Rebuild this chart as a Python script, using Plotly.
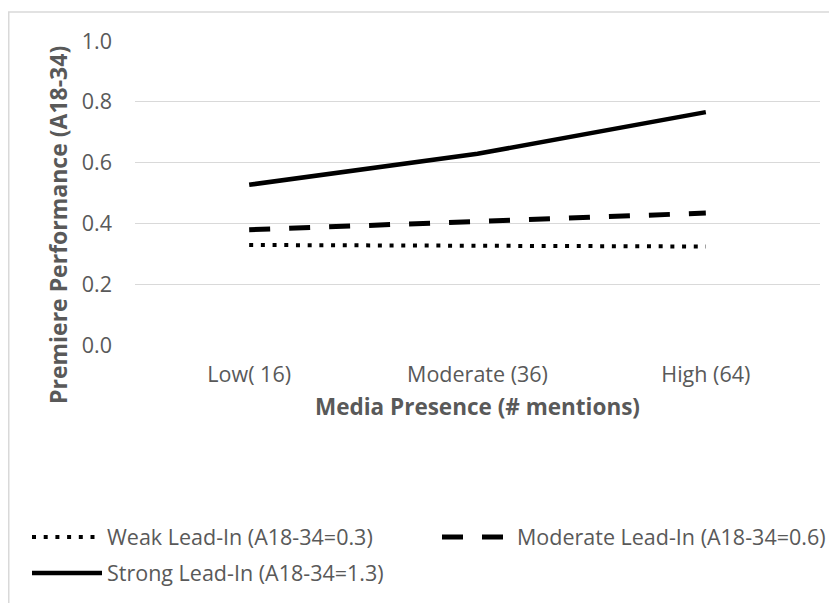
import plotly.graph_objects as go

categories = ["Low( 16)", "Moderate (36)", "High (64)"]
weak = [0.329, 0.327, 0.324]
moderate = [0.379, 0.405, 0.434]
strong = [0.527, 0.629, 0.766]
series_names = ["Weak Lead-In (A18-34=0.3)", "Moderate Lead-In (A18-34=0.6)", "Strong Lead-In (A18-34=1.3)"]
y_ticks = [0.0, 0.2, 0.4, 0.6, 0.8, 1.0]

FONT = "Open Sans"
GREY = "#595959"

fig = go.Figure()
fig.add_trace(go.Scatter(x=categories, y=weak, name=series_names[0], mode="lines", legend="legend",
                         line=dict(color="black", width=4, dash="4px,7.7px")))
fig.add_trace(go.Scatter(x=categories, y=moderate, name=series_names[1], mode="lines", legend="legend2",
                         line=dict(color="black", width=5, dash="21px,19px")))
fig.add_trace(go.Scatter(x=categories, y=strong, name=series_names[2], mode="lines", legend="legend3",
                         line=dict(color="black", width=4.5)))

# plot area in page pixels (page has an 8px body margin)
PLOT_L, PLOT_W, PLOT_B, PLOT_H = 135, 685, 345, 304


def px_x(x):
    return (x - PLOT_L) / PLOT_W


def px_y(y):
    return (PLOT_B - y) / PLOT_H


leg_common = dict(orientation="v", xanchor="left", yanchor="middle", itemwidth=70,
                  font=dict(size=21.5, color=GREY, family=FONT), bgcolor="rgba(0,0,0,0)",
                  itemsizing="trace")

fig.update_layout(
    width=837, height=603,
    margin=dict(l=127, r=25, t=33, b=266),
    paper_bgcolor="white", plot_bgcolor="white",
    font=dict(family=FONT, color=GREY, size=21.5),
    showlegend=True,
    legend=dict(x=px_x(27), y=px_y(537), **leg_common),
    legend2=dict(x=px_x(437), y=px_y(537), **leg_common),
    legend3=dict(x=px_x(27), y=px_y(573), **leg_common),
    xaxis=dict(type="category", range=[-0.5, 2.5], showgrid=False, zeroline=False,
               showline=False, ticks="", tickfont=dict(size=21.5, color=GREY),
               ticklabelstandoff=14,
               title=dict(text="<b>Media Presence (# mentions)</b>", font=dict(size=22.5, color=GREY), standoff=12)),
    yaxis=dict(range=[0, 1.0], tickvals=y_ticks, tickformat=".1f", showgrid=True,
               gridcolor="#d9d9d9", gridwidth=1, zeroline=False, showline=False, ticks="",
               tickfont=dict(size=21.5, color=GREY), ticklabelstandoff=22),
    annotations=[dict(text="<b>Premiere Performance (A18-34)</b>", xref="paper", yref="paper",
                      x=px_x(58), y=px_y(225), xanchor="center", yanchor="middle",
                      textangle=-90, showarrow=False, font=dict(size=23, color=GREY, family=FONT))],
    shapes=[dict(type="rect", xref="paper", yref="paper",
                 x0=px_x(8.75), x1=px_x(850),
                 y0=px_y(620), y1=px_y(12),
                 line=dict(color="#d9d9d9", width=1.5), fillcolor="rgba(0,0,0,0)", layer="below")],
)

fig.write_html("out.html")
